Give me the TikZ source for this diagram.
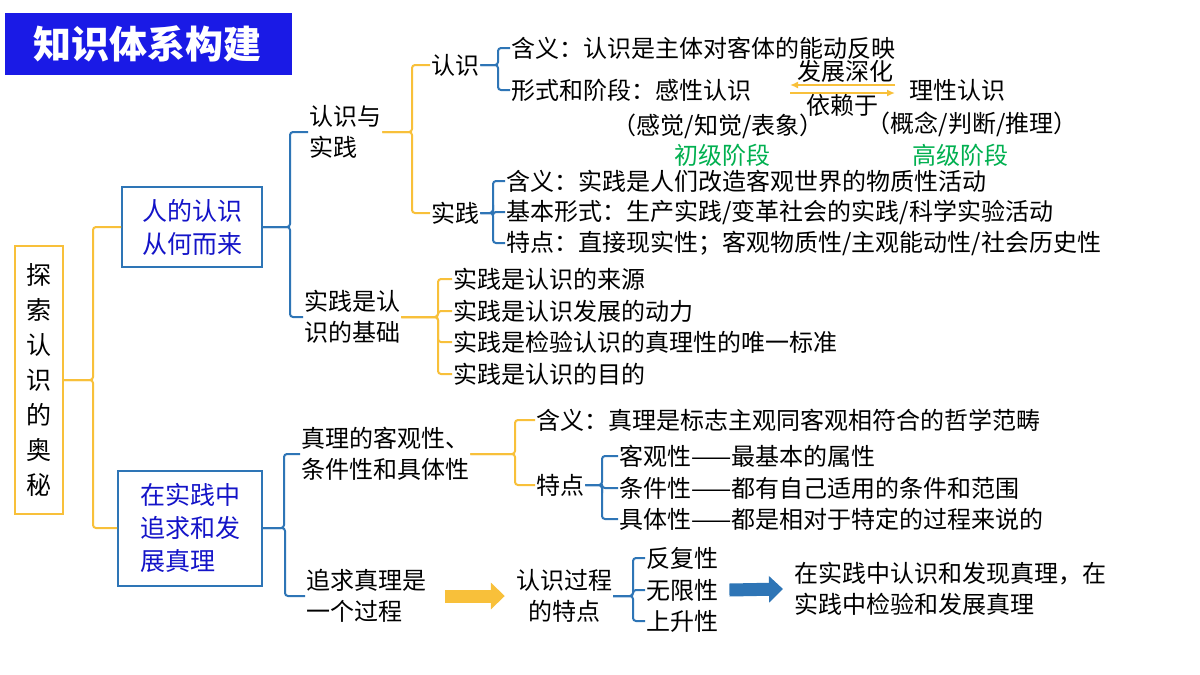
\documentclass[tikz,border=0pt]{standalone}
\usepackage{fontspec}
\usetikzlibrary{arrows.meta}
\newfontfamily\cjk{Noto Sans CJK SC}
\definecolor{gold}{HTML}{F8C03A}
\definecolor{lineblue}{HTML}{2E75B6}
\definecolor{titleblue}{HTML}{1A1AE6}
\definecolor{textblue}{HTML}{1414C8}
\definecolor{stagegreen}{HTML}{00B050}

\begin{document}
\begin{tikzpicture}[x=1pt,y=-1pt,
    every node/.style={font=\cjk\fontsize{24}{31}\selectfont, inner sep=1pt},
    item/.style={anchor=west, align=left},
    topic/.style={draw=lineblue, line width=2pt, text=textblue, align=left, inner sep=5pt,
                  font=\cjk\fontsize{25}{33}\selectfont},
    ybr/.style={draw=gold, line width=2pt, rounded corners=3pt},
    bbr/.style={draw=lineblue, line width=2pt, rounded corners=3pt},
    goarrow/.style={-{Latex[length=8pt,width=7pt]}, draw=gold, line width=2pt},
    fatarrow/.style={line width=13pt, -{Triangle[length=14pt,width=26pt]}}
  ]
  % Frame
  \useasboundingbox (0,0) rectangle (1200,675);
  \fill[white] (0,0) rectangle (1200,675);

  % Title
  \node[fill=titleblue, text=white, font=\cjk\bfseries\fontsize{38}{44}\selectfont,
        minimum width=287, minimum height=62] (title) at (148,44) {知识体系构建};

  % Root and topics
  \node[draw=gold, line width=2pt, align=center, minimum width=48, minimum height=268,
        font=\cjk\fontsize{25}{35}\selectfont] (root) at (39,380) {探\\索\\认\\识\\的\\奥\\秘};
  \node[topic, minimum width=140, minimum height=80] (knowledge) at (192,227) {人的认识\\从何而来};
  \node[topic, minimum width=144, minimum height=115] (truth) at (190,528) {在实践中\\追求和发\\展真理};
  \draw[ybr] (root.east) -| ([xshift=-28pt]knowledge.west) -- (knowledge.west);
  \draw[ybr] (root.east) -| ([xshift=-24pt]truth.west) -- (truth.west);

  % Knowledge and practice
  \node[item] (kp) at (308,132) {认识与\\实践};
  \node[item] (basis) at (303,317) {实践是认\\识的基础};
  \draw[bbr] (knowledge.east) -| ([xshift=-18pt]kp.west) -- (kp.west);
  \draw[bbr] (knowledge.east) -| ([xshift=-13pt]basis.west) -- (basis.west);

  \node[item] (cog) at (430,65) {认识};
  \node[item] (prac) at (430,213) {实践};
  \draw[ybr] (kp.east) -| ([xshift=-18pt]cog.west) -- (cog.west);
  \draw[ybr] (kp.east) -| ([xshift=-18pt]prac.west) -- (prac.west);

  \node[item] (cogdef) at (510,48) {含义：认识是主体对客体的能动反映};
  \node[item] (cogform) at (510,90) {形式和阶段：感性认识};
  \draw[bbr] (cog.east) -| ([xshift=-12pt]cogdef.west) -- (cogdef.west);
  \draw[bbr] (cog.east) -| ([xshift=-12pt]cogform.west) -- (cogform.west);

  \node[item] (rational) at (908,90) {理性认识};
  \coordinate (arrowleft) at (790,89);
  \coordinate (arrowright) at (895,89);
  \draw[goarrow] ([yshift=-4pt]arrowleft) -- ([yshift=-4pt]arrowright);
  \draw[goarrow] ([yshift=4pt]arrowright) -- ([yshift=4pt]arrowleft);
  \node (deepen) at (845,71) {发展深化};
  \node (depend) at (842,105) {依赖于};
  \node (perceptual) at (718,126) {（感觉/知觉/表象）};
  \node (conceptual) at (972,124) {（概念/判断/推理）};
  \node[text=stagegreen] (low) at (722,155) {初级阶段};
  \node[text=stagegreen] (high) at (960,155) {高级阶段};

  \node[item] (pracdef) at (505,181) {含义：实践是人们改造客观世界的物质性活动};
  \node[item] (pracform) at (505,212) {基本形式：生产实践/变革社会的实践/科学实验活动};
  \node[item] (pracfeat) at (505,243) {特点：直接现实性；客观物质性/主观能动性/社会历史性};
  \foreach \c in {pracdef,pracform,pracfeat}
    \draw[bbr] (prac.east) -| ([xshift=-12pt]\c.west) -- (\c.west);

  \node[item] (source) at (452,279) {实践是认识的来源};
  \node[item] (force) at (452,311) {实践是认识发展的动力};
  \node[item] (standard) at (452,342) {实践是检验认识的真理性的唯一标准};
  \node[item] (aim) at (452,374) {实践是认识的目的};
  \foreach \c in {source,force,standard,aim}
    \draw[ybr] (basis.east) -| ([xshift=-14pt]\c.west) -- (\c.west);

  % Truth
  \node[item] (nature) at (300,454) {真理的客观性、\\条件性和具体性};
  \node[item] (process) at (305,596) {追求真理是\\一个过程};
  \draw[bbr] (truth.east) -| ([xshift=-16pt]nature.west) -- (nature.west);
  \draw[bbr] (truth.east) -| ([xshift=-20pt]process.west) -- (process.west);

  \node[item] (truthdef) at (535,420) {含义：真理是标志主观同客观相符合的哲学范畴};
  \node[item] (truthfeat) at (535,485) {特点};
  \draw[ybr] (nature.east) -| ([xshift=-20pt]truthdef.west) -- (truthdef.west);
  \draw[ybr] (nature.east) -| ([xshift=-20pt]truthfeat.west) -- (truthfeat.west);

  \node[item] (objective) at (618,456) {客观性——最基本的属性};
  \node[item] (conditional) at (618,488) {条件性——都有自己适用的条件和范围};
  \node[item] (concrete) at (618,519) {具体性——都是相对于特定的过程来说的};
  \foreach \c in {objective,conditional,concrete}
    \draw[bbr] (truthfeat.east) -| ([xshift=-16pt]\c.west) -- (\c.west);

  \node[align=center] (traits) at (564,596) {认识过程\\的特点};
  \draw[fatarrow, draw=gold] ([xshift=18pt]process.east) -- ([xshift=-10pt]traits.west);
  \node[item] (repeat) at (645,558) {反复性};
  \node[item] (infinite) at (645,590) {无限性};
  \node[item] (rise) at (645,621) {上升性};
  \foreach \c in {repeat,infinite,rise}
    \draw[bbr] (traits.east) -| ([xshift=-12pt]\c.west) -- (\c.west);

  \node[item] (conclusion) at (793,589) {在实践中认识和发现真理，在\\实践中检验和发展真理};
  \draw[fatarrow, draw=lineblue] ([xshift=10pt]infinite.east) -- ([xshift=-10pt]conclusion.west);
\end{tikzpicture}
\end{document}
